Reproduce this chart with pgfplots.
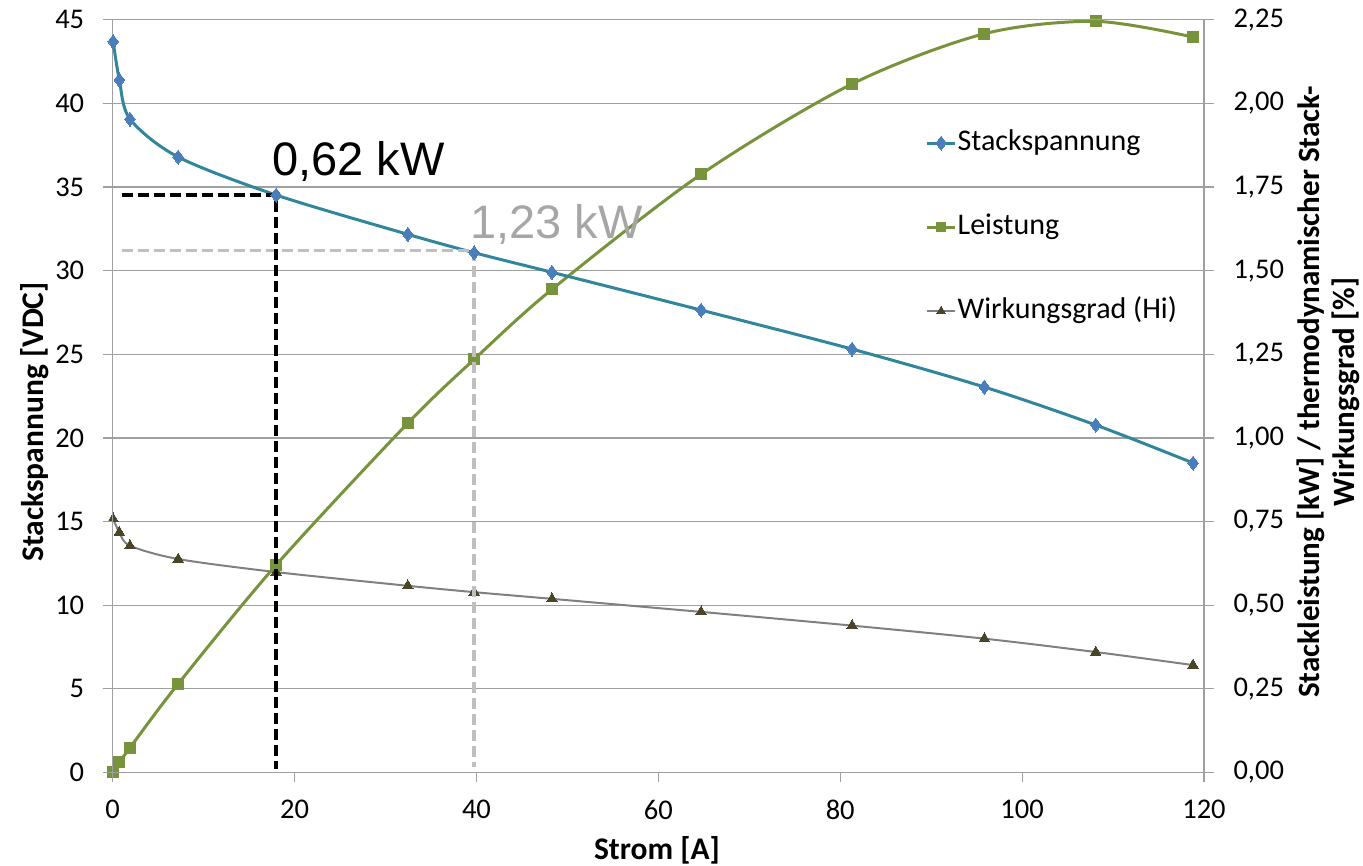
\documentclass[border=0pt]{standalone}
\usepackage{fontspec}
\setmainfont{Carlito}
\newfontfamily\arialf{Liberation Sans}
\usepackage{pgfplots}
\pgfplotsset{compat=1.18}
\usepackage{pgfplotstable}

\definecolor{gridgray}{RGB}{160,160,160}
\definecolor{stackline}{RGB}{49,133,156}
\definecolor{stackmark}{RGB}{74,126,187}
\definecolor{leistung}{RGB}{119,147,60}
\definecolor{wgline}{RGB}{128,128,128}
\definecolor{wgmark}{RGB}{73,69,41}
\definecolor{lightdash}{RGB}{191,191,191}
\definecolor{lighttext}{RGB}{166,166,166}

\pgfplotstableread{
I V
0.05 43.69
0.73 41.40
1.90 39.06
7.20 36.79
17.97 34.52
32.45 32.17
39.75 31.07
48.30 29.90
64.70 27.64
81.30 25.31
95.85 23.04
108.10 20.77
118.80 18.50
}\stack

\pgfplotstableread{
I P
0.05 0.002
0.73 0.030
1.90 0.074
7.20 0.265
17.97 0.620
32.45 1.044
39.75 1.235
48.30 1.444
64.70 1.788
81.30 2.058
95.85 2.208
108.10 2.245
118.80 2.198
}\leist

\pgfplotstableread{
I W
0.05 0.758
0.73 0.718
1.90 0.678
7.20 0.638
17.97 0.599
32.45 0.558
39.75 0.539
48.30 0.519
64.70 0.480
81.30 0.439
95.85 0.400
108.10 0.360
118.80 0.321
}\wirk

\pgfplotsset{
  mylegimg/.style={legend image code/.code={
    \draw[mark repeat=2,mark phase=2,##1] plot coordinates {(0pt,0pt)(14pt,0pt)(28pt,0pt)};}},
  common/.style={
    at={(0pt,0pt)}, anchor=south west,
    scale only axis, width=1091.3pt, height=752.8pt,
    xmin=0, xmax=120,
    clip=false,
    major tick length=10pt, tick align=outside,
    tick style={draw=gridgray, line width=1.2pt},
    axis line style={draw=gridgray, line width=1.2pt},
    tick label style={font=\fontsize{28.5}{33}\selectfont, text=black},
    /pgf/number format/assume math mode=true,
  },
}

\begin{document}
\begin{tikzpicture}
\path[use as bounding box] (-112.7pt,-93.5pt) rectangle (1250.3pt,772.5pt);

% right axis: Leistung, Wirkungsgrad, grid
\begin{axis}[common,
  ymin=0, ymax=2.25,
  ytick={0,0.25,...,2.25},
  hide x axis,
  ytick pos=right, yticklabel pos=right,
  ymajorgrids, grid style={draw=gridgray, line width=1.2pt},
  yticklabel style={anchor=west},
  yticklabel={\hspace*{16pt}\pgfmathprintnumber[fixed,fixed zerofill,precision=2,use comma]{\tick}},
]
\addplot[color=wgline, line width=2pt, smooth, mark=triangle*, mark size=6pt,
  mark options={fill=wgmark, draw=wgmark, line width=0pt}] table[x=I,y=W] {\wirk};
\addplot[color=leistung, line width=3pt, smooth, mark=square*, mark size=5.5pt,
  mark options={fill=leistung, draw=leistung, line width=0pt}] table[x=I,y=P] {\leist};
\end{axis}

% left axis: Stackspannung
\begin{axis}[common,
  ymin=0, ymax=45,
  xtick={0,20,...,120}, ytick={0,5,...,45},
  xtick pos=bottom, ytick pos=left,
  yticklabel style={xshift=-15pt},
  xticklabel style={yshift=-14pt},
  mylegimg,
  legend style={at={(0.742,0.7246)}, anchor=west, draw=none, fill=none,
    row sep=53pt, font=\fontsize{30}{34}\selectfont,
    nodes={inner sep=1pt, anchor=west, text height=22pt, text depth=7pt}},
  legend cell align=left,
]
\addplot[color=stackline, line width=3pt, smooth, mark=diamond*, mark size=7pt,
  mark options={fill=stackmark, draw=stackmark, line width=0pt}] table[x=I,y=V] {\stack};
\addlegendentry{Stackspannung}
\addlegendimage{color=leistung, line width=3pt, mark=square*, mark size=4.5pt,
  mark options={fill=leistung, draw=leistung, line width=0pt}}
\addlegendentry{Leistung}
\addlegendimage{color=wgline, line width=2pt, mark=triangle*, mark size=5pt,
  mark options={fill=wgmark, draw=wgmark, line width=0pt}}
\addlegendentry{Wirkungsgrad (Hi)}

\addplot[forget plot, color=lightdash, line width=3.5pt, dash pattern=on 11pt off 5pt]
  coordinates {(1,31.2) (39.75,31.2) (39.75,0.3)};
\addplot[forget plot, color=black, line width=3.5pt, dash pattern=on 11pt off 5pt]
  coordinates {(1,34.52) (17.97,34.52) (17.97,0.2)};

\node[anchor=base west, inner sep=0pt, font=\arialf\fontsize{47}{50}\selectfont, text=black]
  at (axis cs:17.5,35.7) {0,62 kW};
\node[anchor=base west, inner sep=0pt, font=\arialf\fontsize{47}{50}\selectfont, text=lighttext]
  at (axis cs:39.3,31.95) {1,23 kW};
\end{axis}

\node[rotate=90, font=\fontsize{31.5}{36}\selectfont\bfseries] at (-77.7pt,350.5pt) {Stackspannung [VDC]};
\node[font=\fontsize{31.5}{36}\selectfont\bfseries] at (544.3pt,-77.5pt) {Strom [A]};
\node[rotate=90, align=center, font=\fontsize{31}{35}\selectfont\bfseries] at (1215.5pt,380.5pt)
  {Stackleistung [kW] / thermodynamischer Stack-\\Wirkungsgrad [\%]};
\end{tikzpicture}
\end{document}
